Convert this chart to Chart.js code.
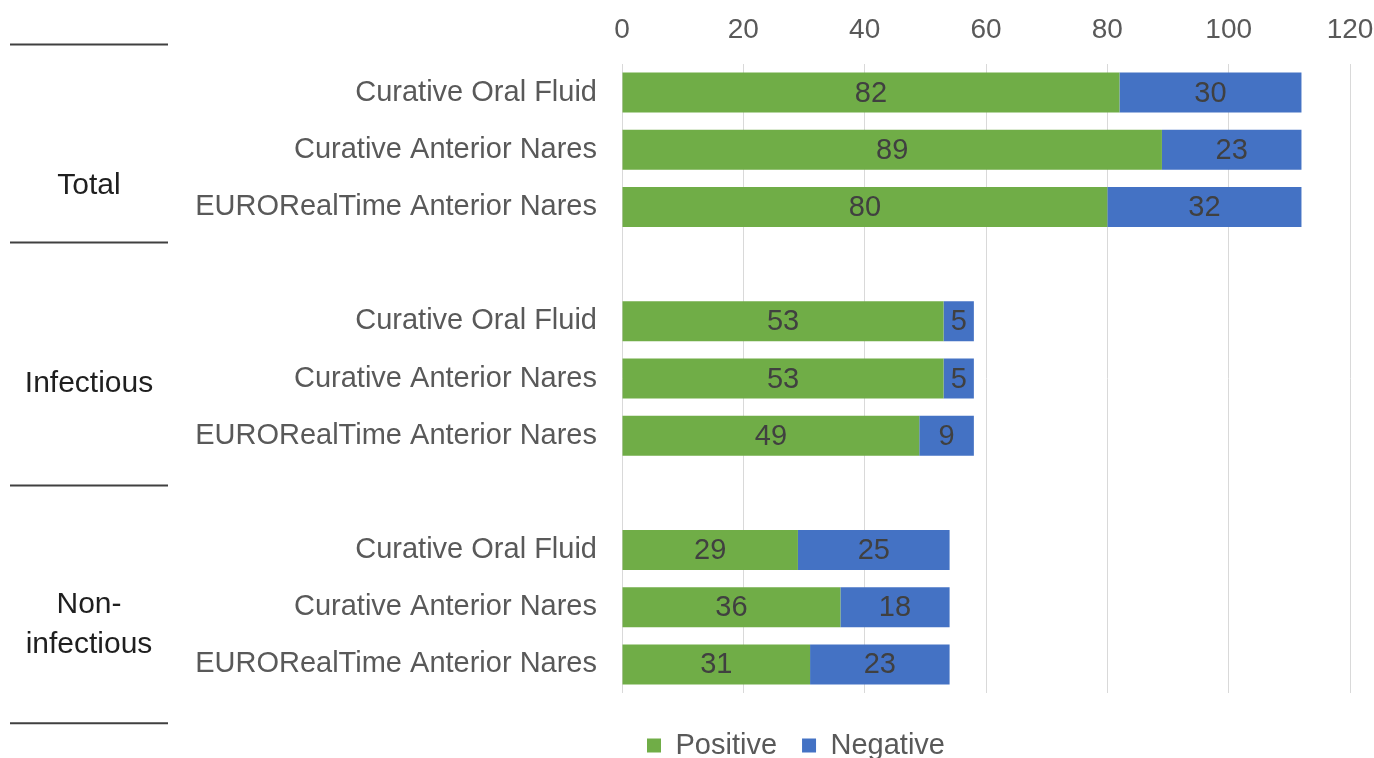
<!DOCTYPE html>
<html lang="en">
<head>
    <meta charset="UTF-8">
    <title>Positive / Negative by test</title>
    <script src="https://cdn.jsdelivr.net/npm/chart.js"></script>
    <style>
        html, body {
            margin: 0;
            padding: 0;
            background: #ffffff;
            overflow: hidden;
        }
        .chart-box {
            position: relative;
            width: 1374px;
            height: 770px;
        }
    </style>
</head>
<body>
    <div class="chart-box">
        <canvas id="resultsChart"></canvas>
    </div>
    <script>
        // rows of the chart, blank rows separate the groups
        const categories = [
            'Curative Oral Fluid', 'Curative Anterior Nares', 'EURORealTime Anterior Nares', '',
            'Curative Oral Fluid', 'Curative Anterior Nares', 'EURORealTime Anterior Nares', '',
            'Curative Oral Fluid', 'Curative Anterior Nares', 'EURORealTime Anterior Nares'
        ];
        const positive = [82, 89, 80, null, 53, 53, 49, null, 29, 36, 31];
        const negative = [30, 23, 32, null, 5, 5, 9, null, 25, 18, 23];
        const groupNames = ['Total', 'Infectious', ['Non-', 'infectious']];
        const xTicks = [0, 20, 40, 60, 80, 100, 120];

        const fontName = '"Liberation Sans", Arial, sans-serif';

        // numbers inside the bars
        const barLabels = {
            id: 'barLabels',
            afterDatasetsDraw(chart) {
                const ctx = chart.ctx;
                ctx.save();
                ctx.font = '29px ' + fontName;
                ctx.fillStyle = '#404040';
                ctx.textAlign = 'center';
                ctx.textBaseline = 'middle';
                chart.data.datasets.forEach((ds, i) => {
                    chart.getDatasetMeta(i).data.forEach((bar, j) => {
                        if (ds.data[j] == null) return;
                        const p = bar.getCenterPoint();
                        ctx.fillText(ds.data[j], p.x, p.y + 1);
                    });
                });
                ctx.restore();
            }
        };

        // group names and the short rules on the left
        const groupLabels = {
            id: 'groupLabels',
            afterDraw(chart) {
                const ctx = chart.ctx;
                const y = chart.scales.y;
                const step = y.getPixelForValue(1) - y.getPixelForValue(0);
                const at = v => y.getPixelForValue(0) + v * step;
                ctx.save();
                ctx.strokeStyle = '#404040';
                ctx.lineWidth = 2;
                [-0.84, 2.62, 6.87, 11.03].forEach(v => {
                    ctx.beginPath();
                    ctx.moveTo(10, at(v));
                    ctx.lineTo(168, at(v));
                    ctx.stroke();
                });
                ctx.font = '30px ' + fontName;
                ctx.fillStyle = '#1f1f1f';
                ctx.textAlign = 'center';
                ctx.textBaseline = 'middle';
                const centres = [1.63, 5.1, 9.3];
                groupNames.forEach((name, i) => {
                    const lines = Array.isArray(name) ? name : [name];
                    lines.forEach((line, k) => {
                        const dy = (k - (lines.length - 1) / 2) * 40;
                        ctx.fillText(line, 89, at(centres[i]) + dy);
                    });
                });
                ctx.restore();
            }
        };

        const ctx = document.getElementById('resultsChart').getContext('2d');
        new Chart(ctx, {
            type: 'bar',
            data: {
                labels: categories,
                datasets: [{
                    label: 'Positive',
                    data: positive,
                    backgroundColor: '#70ad47',
                    barPercentage: 0.7,
                    categoryPercentage: 1
                }, {
                    label: 'Negative',
                    data: negative,
                    backgroundColor: '#4472c4',
                    barPercentage: 0.7,
                    categoryPercentage: 1
                }]
            },
            options: {
                indexAxis: 'y',
                responsive: true,
                maintainAspectRatio: false,
                animation: false,
                layout: { padding: { left: 0, right: 24, top: 0, bottom: 0 } },
                scales: {
                    x: {
                        position: 'top',
                        stacked: true,
                        min: 0,
                        max: 120,
                        afterBuildTicks: s => { s.ticks = xTicks.map(v => ({ value: v })); },
                        afterFit: s => { s.height = 64; s.paddingLeft = 0; s.paddingRight = 0; },
                        grid: { color: '#d9d9d9', drawTicks: false },
                        border: { display: false },
                        ticks: { color: '#595959', padding: 17, font: { family: fontName, size: 28 } }
                    },
                    xb: {
                        type: 'linear',
                        position: 'bottom',
                        grid: { display: false },
                        border: { display: false },
                        ticks: { display: false },
                        afterFit: s => { s.height = 13; s.paddingLeft = 0; s.paddingRight = 0; }
                    },
                    y: {
                        stacked: true,
                        afterFit: s => { s.width = 622; s.paddingTop = 0; s.paddingBottom = 0; },
                        grid: { display: false, drawTicks: false },
                        border: { display: false },
                        ticks: { color: '#595959', padding: 25, font: { family: fontName, size: 29 } }
                    }
                },
                plugins: {
                    legend: {
                        position: 'bottom',
                        align: 'start',
                        fullSize: false,
                        labels: {
                            boxWidth: 14,
                            boxHeight: 14,
                            padding: 25,
                            color: '#595959',
                            font: { family: fontName, size: 29 }
                        }
                    },
                    tooltip: { enabled: false }
                }
            },
            plugins: [barLabels, groupLabels]
        });
    </script>
</body>
</html>
